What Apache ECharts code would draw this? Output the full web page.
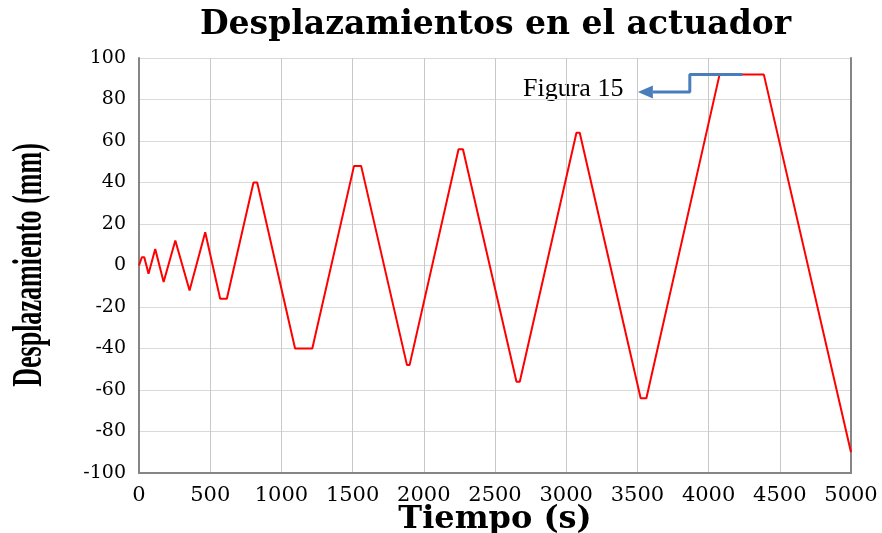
<!DOCTYPE html>
<html>
<head>
<meta charset="utf-8">
<script src="https://cdn.jsdelivr.net/npm/echarts@6/dist/echarts.min.js"></script>
<style>html,body{margin:0;padding:0;background:#fff}#c{width:882px;height:533px}</style>
</head>
<body>
<div id="c"></div>
<script>
// Time (s) of each vertex of the actuator displacement history
const tiempo = [0, 20, 37, 67, 114, 173, 255, 262, 355, 465, 570, 617, 804, 830, 1096, 1217, 1510, 1560, 1882, 1900, 2244, 2275, 2651, 2674, 3072, 3095, 3523, 3563, 4077, 4388, 5000];
// Displacement (mm) at each vertex
const desplazamiento = [0, 4, 4, -4, 8, -8, 12, 12, -12, 16, -16, -16, 40, 40, -40, -40, 48, 48, -48, -48, 56, 56, -56, -56, 64, 64, -64, -64, 92, 92, -90];
// Annotation pointer path (data coords)
const flechaT = [4238, 3868, 3868, 3609];
const flechaV = [92, 92, 83.6, 83.6];
const puntaFlecha = [3556, 83.6];
const xTicks = [0, 500, 1000, 1500, 2000, 2500, 3000, 3500, 4000, 4500, 5000];
const yTicks = [-100, -80, -60, -40, -20, 0, 20, 40, 60, 80, 100];

const chart = echarts.init(document.getElementById('c'), null, {renderer: 'canvas'});
const serie = tiempo.map((t, i) => [t, desplazamiento[i]]);
const flecha = flechaT.map((t, i) => [t, flechaV[i]]);

chart.setOption({
  animation: false,
  backgroundColor: '#ffffff',
  title: {
    text: 'Desplazamientos en el actuador',
    left: 195, top: 4,
    textStyle: {fontFamily: 'DejaVu Serif', fontWeight: 'bold', fontSize: 33, color: '#000'}
  },
  grid: {left: 139, right: 31, top: 58, bottom: 60, containLabel: false, outerBoundsMode: 'none'},
  xAxis: {
    type: 'value', min: xTicks[0], max: xTicks[xTicks.length - 1], interval: 500,
    name: 'Tiempo (s)', nameLocation: 'middle', nameGap: 31, nameMoveOverlap: false,
    nameTextStyle: {fontFamily: 'DejaVu Serif', fontWeight: 'bold', fontSize: 32, color: '#000'},
    axisLine: {show: true, onZero: false, lineStyle: {color: '#858585', width: 2}},
    axisTick: {show: false},
    axisLabel: {fontFamily: 'DejaVu Serif', fontSize: 21, color: '#000', margin: 12, formatter: v => String(v)},
    splitLine: {show: true, lineStyle: {color: '#c9c9c9', width: 1}}
  },
  yAxis: [{
    type: 'value', min: yTicks[0], max: yTicks[yTicks.length - 1], interval: 20,
    axisLine: {show: true, onZero: false, lineStyle: {color: '#858585', width: 2}},
    axisTick: {show: false},
    axisLabel: {fontFamily: 'DejaVu Serif', fontSize: 19, color: '#000', margin: 13},
    splitLine: {show: true, lineStyle: {color: '#d9d9d9', width: 1}}
  }, {
    type: 'value', position: 'right', min: yTicks[0], max: yTicks[yTicks.length - 1], interval: 20,
    axisLine: {show: true, onZero: false, lineStyle: {color: '#858585', width: 2}},
    axisTick: {show: false}, axisLabel: {show: false}, splitLine: {show: false}
  }],
  graphic: [{
    type: 'text', x: 30, y: 265, rotation: Math.PI / 2, scaleX: 0.62,
    style: {text: 'Desplazamiento (mm)', font: 'bold 42px "Liberation Serif"', fill: '#000', align: 'center', verticalAlign: 'middle'}
  }, {
    type: 'text', x: 523, y: 89,
    style: {text: 'Figura 15', font: '26px "Liberation Serif"', fill: '#000', align: 'left', verticalAlign: 'middle'}
  }],
  series: [{
    type: 'line', data: serie, showSymbol: false, yAxisIndex: 0,
    lineStyle: {color: '#ff0000', width: 2}, z: 3
  }, {
    type: 'line', data: flecha, showSymbol: false, yAxisIndex: 0,
    lineStyle: {color: '#4a7ebb', width: 3}, z: 4
  }, {
    type: 'scatter', data: [puntaFlecha], symbol: 'triangle', symbolSize: [13, 15], symbolRotate: 90,
    itemStyle: {color: '#4a7ebb', opacity: 1}, yAxisIndex: 0, z: 4
  }]
});
</script>
</body>
</html>
